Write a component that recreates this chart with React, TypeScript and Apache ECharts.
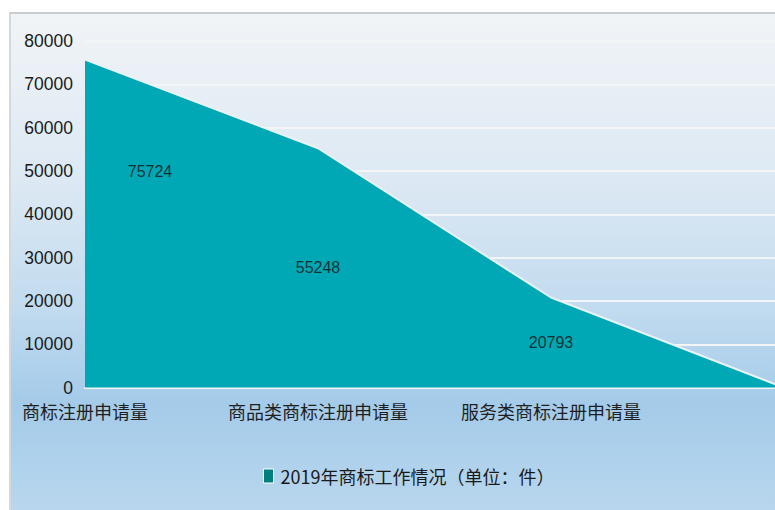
import React, { useEffect, useRef } from "react";
import * as echarts from "echarts";

const categories = ["商标注册申请量", "商品类商标注册申请量", "服务类商标注册申请量", ""];
const values = [75724, 55248, 20793, 0];
const seriesName = "2019年商标工作情况（单位：件）";
const yTicks = { min: 0, max: 80000, interval: 10000 };

const NUM_FONT = "'Liberation Sans Narrow', 'Liberation Sans', Arial, sans-serif";
const CJK_FONT = "'Noto Sans CJK SC', 'Liberation Sans', sans-serif";

export default function App() {
  const ref = useRef<HTMLDivElement>(null);
  useEffect(() => {
    if (!ref.current) return;
    const chart = echarts.init(ref.current, undefined, { renderer: "svg" });
    const labelData = values.slice(0, 3).map((v, i) => ({
      value: [i, v / 2],
      label: i === 0 ? { offset: [65, -52] } : {},
    }));
    chart.setOption({
      animation: false,
      backgroundColor: new echarts.graphic.LinearGradient(0, 0, 0, 1, [
        { offset: 0, color: "#f1f4f7" },
        { offset: 0.35, color: "#dbe8f3" },
        { offset: 0.6, color: "#c0daef" },
        { offset: 0.78, color: "#a4cbe9" },
        { offset: 1, color: "#b9d7ee" },
      ]),
      grid: { left: 74, top: 27, right: 27, bottom: 126.4, containLabel: false },
      legend: {
        left: 247,
        top: 448,
        icon: "rect",
        itemWidth: 10,
        itemHeight: 14,
        itemGap: 10,
        data: [{ name: seriesName, itemStyle: { color: "#00807c", borderColor: "#ffffff", borderWidth: 1 } }],
        textStyle: { fontFamily: CJK_FONT, fontSize: 18, color: "#1a1a1a", padding: [0, 0, 0, 2] },
      },
      xAxis: {
        type: "category",
        data: categories,
        boundaryGap: false,
        axisLine: { show: true, lineStyle: { color: "#f4f7f9", width: 2 } },
        axisTick: { show: false },
        axisLabel: {
          interval: 0,
          margin: 14,
          fontFamily: CJK_FONT,
          fontSize: 18,
          color: "#1f1f1f",
        },
        splitLine: { show: false },
      },
      yAxis: {
        type: "value",
        min: yTicks.min,
        max: yTicks.max,
        interval: yTicks.interval,
        axisLine: { show: false },
        axisTick: { show: false },
        axisLabel: {
          margin: 12,
          fontFamily: NUM_FONT,
          fontSize: 17.5,
          color: "#1a1a1a",
          formatter: (v: number) => String(v),
        },
        splitLine: { show: true, lineStyle: { color: "#f3f5f7", width: 2 } },
      },
      series: [
        {
          name: seriesName,
          type: "line",
          data: values,
          symbol: "none",
          lineStyle: { color: "#eaf2f6", width: 2 },
          itemStyle: { color: "#00a7b4" },
          areaStyle: { color: "#00a7b4", opacity: 1 },
          z: 2,
        },
        {
          name: "labels",
          type: "scatter",
          data: labelData,
          symbolSize: 0,
          silent: true,
          z: 5,
          label: {
            show: true,
            position: "inside",
            fontFamily: NUM_FONT,
            fontSize: 16,
            color: "#111",
            formatter: (p: any) => String(values[p.dataIndex]),
          },
        },
      ],
    });
    return () => chart.dispose();
  }, []);
  return (
    <div style={{ position: "fixed", left: 0, top: 0, width: 775, height: 510, overflow: "hidden", background: "#ffffff" }}>
      <div
        style={{
          position: "absolute",
          left: 9,
          top: 12,
          borderTop: "2px solid #c8cdd1",
          borderLeft: "2px solid #d3d8dc",
        }}
      >
        <div ref={ref} style={{ width: 800, height: 500 }} />
      </div>
    </div>
  );
}
